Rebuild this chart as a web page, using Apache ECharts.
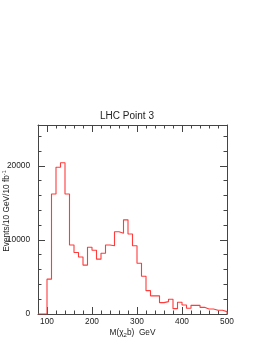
<!DOCTYPE html>
<html>
<head>
<meta charset="utf-8">
<script src="https://cdn.jsdelivr.net/npm/echarts@6/dist/echarts.min.js"></script>
<style>
html,body{margin:0;padding:0;background:#fff;}
#c{width:273px;height:353px;}
</style>
</head>
<body>
<div id="c"></div>
<script>
// Bin lower edges (GeV), 10 GeV bins
var binLow = [80,90,100,110,120,130,140,150,160,170,180,190,200,210,220,230,240,250,260,270,280,290,300,310,320,330,340,350,360,370,380,390,400,410,420,430,440,450,460,470,480,490];
// Events per bin
var counts = [0,0,4700,16200,19800,20400,16200,9300,8300,7700,6600,9000,8600,7400,8200,9300,9200,11100,10900,12700,10800,9200,6850,5100,3150,2450,2450,1530,1670,1980,720,1580,1220,770,1170,1170,900,680,680,500,500,320];
var binUpper = 500;

var xMajorTicks = [100,200,300,400,500];
var xMinorTicks = [100,120,140,160,180,200,220,240,260,280,300,320,340,360,380,400,420,440,460,480,500];
var yMajorTicks = [0,10000,20000];
var yMinorTicks = [0,2000,4000,6000,8000,10000,12000,14000,16000,18000,20000,22000,24000];

var titleText = 'LHC Point 3';

var pts = binLow.map(function(x,i){return [x, counts[i]];});
pts.push([binUpper, 0]);

var FONT = 'Liberation Sans, Arial, sans-serif';
var lineCol = '#444';
function plain(v){ return String(v); }

function xAx(pos, ticks, len, showLine, labels){
  return {
    type:'value', position:pos, min:80, max:500,
    axisLine:{show:showLine, onZero:false, lineStyle:{color:lineCol,width:1}},
    axisTick:{show:true, inside:true, length:len, customValues:ticks, lineStyle:{color:lineCol,width:1}},
    axisLabel: labels ? {show:true, customValues:labels, formatter:plain, color:'#222', fontFamily:FONT, fontSize:8.3, margin:4} : {show:false},
    splitLine:{show:false}
  };
}
function yAx(pos, ticks, len, showLine, labels){
  return {
    type:'value', position:pos, min:0, max:25500,
    axisLine:{show:showLine, onZero:false, lineStyle:{color:lineCol,width:1}},
    axisTick:{show:true, inside:true, length:len, customValues:ticks, lineStyle:{color:lineCol,width:1}},
    axisLabel: labels ? {show:true, customValues:labels, formatter:plain, color:'#222', fontFamily:FONT, fontSize:8.3, margin:8} : {show:false},
    splitLine:{show:false}
  };
}

var chart = echarts.init(document.getElementById('c'), null, {renderer:'canvas'});
chart.setOption({
  animation:false,
  backgroundColor:'#fff',
  grid:{left:38, right:46, top:125, bottom:39, containLabel:false},
  xAxis:[
    xAx('bottom', xMinorTicks, 3.5, true, xMajorTicks),
    xAx('bottom', xMajorTicks, 7, false, null),
    xAx('top', xMinorTicks, 3.5, true, null),
    xAx('top', xMajorTicks, 7, false, null)
  ],
  yAxis:[
    yAx('left', yMinorTicks, 3.5, true, yMajorTicks),
    yAx('left', yMajorTicks, 7, false, null),
    yAx('right', yMinorTicks, 3.5, true, null),
    yAx('right', yMajorTicks, 7, false, null)
  ],
  graphic:[
    {type:'text', x:127, y:116, style:{text:titleText, fill:'#222', font:'10px '+FONT, align:'center', verticalAlign:'middle'}},
    {type:'text', x:132.5, y:333, style:{
      text:'M(χ{s|2}b)  GeV', fill:'#222', font:'8.3px '+FONT, align:'center', verticalAlign:'middle',
      rich:{s:{fontSize:6, fontFamily:FONT, fill:'#222', padding:[5,0,0,0]}}
    }},
    {type:'text', x:7, y:211, rotation:Math.PI/2, style:{
      text:'Events/10 GeV/10 fb{p|-1}', fill:'#222', font:'8.3px '+FONT, align:'center', verticalAlign:'middle',
      rich:{p:{fontSize:5.5, fontFamily:FONT, fill:'#222', padding:[0,0,6,0]}}
    }}
  ],
  series:[{
    type:'line', xAxisIndex:0, yAxisIndex:0, step:'end', data:pts,
    showSymbol:false, symbol:'none',
    lineStyle:{color:'#ff3b3b', width:1.1},
    z:1
  }]
});
</script>
</body>
</html>
